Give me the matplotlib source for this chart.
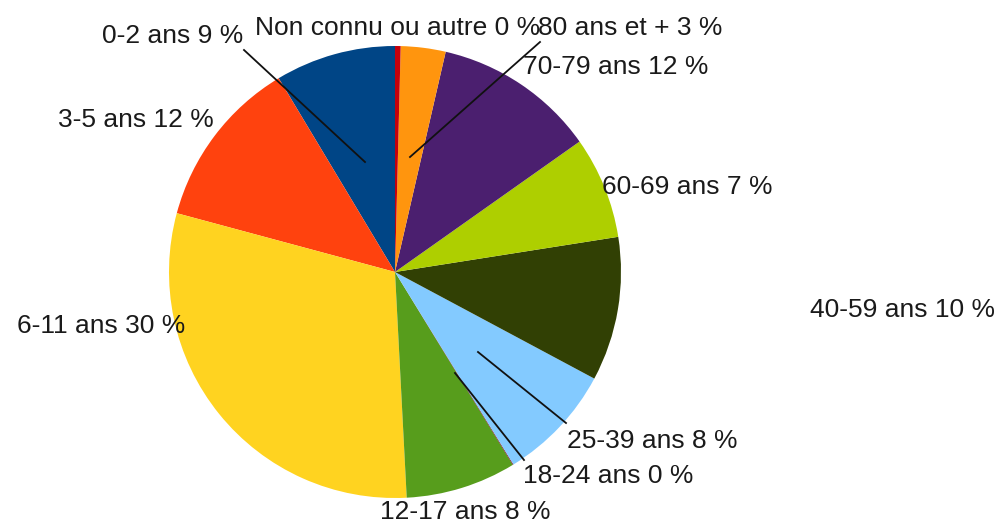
import matplotlib
matplotlib.use("Agg")
import matplotlib.pyplot as plt

categories = ["0-2 ans", "3-5 ans", "6-11 ans", "12-17 ans", "18-24 ans",
              "25-39 ans", "40-59 ans", "60-69 ans", "70-79 ans",
              "80 ans et +", "Non connu ou autre"]
values = [8.6, 12.2, 30.0, 7.9, 0.05, 8.4, 10.3, 7.3, 11.6, 3.2, 0.4]
pct_labels = ["9 %", "12 %", "30 %", "8 %", "0 %", "8 %", "10 %", "7 %", "12 %", "3 %", "0 %"]
colors = ["#004586", "#ff420e", "#ffd320", "#579d1c", "#7e0021", "#83caff",
          "#314004", "#aecf00", "#4b1f6f", "#ff950e", "#c5000b"]

W, H = 999, 526
fig = plt.figure(figsize=(W / 100, H / 100), dpi=100)
ax = fig.add_axes([0, 0, 1, 1])

cx, cy, R = 395, H - 272, 226
ax.pie(values, colors=colors, startangle=90, counterclock=True,
       center=(cx, cy), radius=R, frame=True,
       wedgeprops=dict(linewidth=0))
ax.set_xlim(0, W)
ax.set_ylim(0, H)
ax.set_aspect("equal")
ax.axis("off")

# label placement (left x, baseline y from top)
label_pos = {
    "0-2 ans": (102, 43),
    "3-5 ans": (58, 127),
    "6-11 ans": (17, 333),
    "12-17 ans": (380, 519),
    "18-24 ans": (523, 483),
    "25-39 ans": (567, 448),
    "40-59 ans": (810, 317),
    "60-69 ans": (602, 194),
    "70-79 ans": (523, 74),
    "80 ans et +": (538, 35),
    "Non connu ou autre": (255, 35),
}
leaders = {
    "0-2 ans": [(244, 50), (365, 162)],
    "80 ans et +": [(540, 42), (410, 157)],
    "18-24 ans": [(524, 460), (455, 373)],
    "25-39 ans": [(566, 423), (478, 352)],
}
for cat, pct in zip(categories, pct_labels):
    x, y = label_pos[cat]
    ax.text(x, H - y, f"{cat} {pct}", fontsize=19, family="Liberation Sans",
            color="#1a1a1a", ha="left", va="baseline")
    if cat in leaders:
        (x1, y1), (x2, y2) = leaders[cat]
        ax.plot([x1, x2], [H - y1, H - y2], color="#111111", lw=1.3)

fig.savefig("out.png", dpi=100)
